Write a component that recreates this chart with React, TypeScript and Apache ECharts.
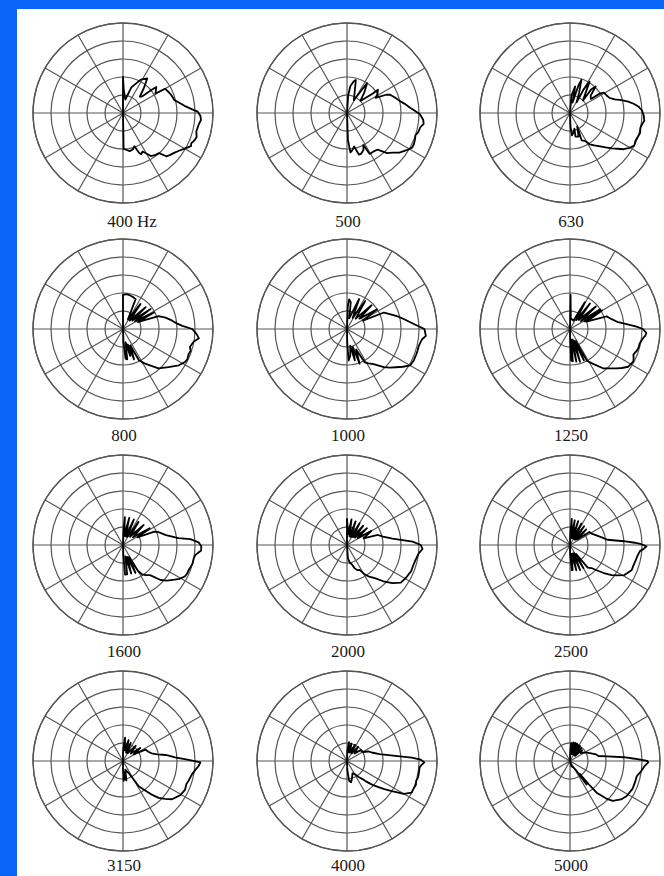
import React, { useEffect, useRef } from 'react';
import * as echarts from 'echarts';

// Frequency labels under each polar plot
const frequencyLabels = ['400 Hz', '500', '630', '800', '1000', '1250', '1600', '2000', '2500', '3150', '4000', '5000'];

// Ring values (relative level, 0 = centre, 100 = outer circle) and spoke spacing
const ringMax = 100;
const ringStep = 20;
const spokeStep = 30;

// Each pattern: [angle in degrees (0 = right, 90 = up), level 0..100]
const p400: [number, number][] = [
  [95, 0], [90, 40], [88, 25], [80, 15], [72, 30], [62, 42], [55, 47], [50, 36], [44, 26], [41, 28], [39, 40], [38, 47],
  [34, 44], [31, 42], [30, 54], [24, 56], [21, 57], [14, 59], [10, 64], [6, 70], [3, 77], [1, 83], [-2, 86], [-5, 87],
  [-9, 85], [-14, 84], [-18, 86], [-21, 85], [-24, 83], [-26, 84], [-30, 79], [-34, 75], [-38, 72], [-42, 70], [-45, 68],
  [-48, 60], [-52, 59], [-57, 57], [-60, 52], [-63, 48], [-66, 50], [-68, 48], [-71, 39], [-75, 42], [-80, 43], [-85, 41],
  [-89, 40], [-93, 0],
];
const p500: [number, number][] = [
  [95, 0], [86, 20], [83, 30], [78, 36], [75, 38], [70, 25], [62, 16], [58, 28], [56, 40], [50, 30], [42, 20], [37, 36],
  [37, 43], [32, 40], [28, 36], [25, 48], [23, 52], [18, 56], [13, 60], [9, 65], [5, 70], [1, 77], [-1, 81], [-5, 85],
  [-8, 86], [-11, 83], [-15, 82], [-18, 80], [-21, 81], [-25, 82], [-28, 82], [-32, 78], [-37, 73], [-41, 67], [-45, 63],
  [-50, 53], [-55, 52], [-61, 52], [-63, 40], [-66, 45], [-71, 48], [-74, 48], [-78, 38], [-82, 42], [-85, 44], [-88, 30],
  [-93, 0],
];
const p630: [number, number][] = [
  [95, 0], [85, 20], [79, 30], [76, 12], [73, 32], [71, 39], [66, 25], [58, 14], [60, 30], [58, 41], [52, 28], [44, 20],
  [48, 35], [46, 41], [40, 30], [34, 28], [33, 40], [31, 44], [26, 45], [21, 47], [17, 52], [14, 59], [11, 66], [8, 72],
  [5, 77], [2, 80], [-2, 82], [-6, 83], [-9, 81], [-12, 80], [-16, 81], [-19, 80], [-23, 79], [-27, 80], [-31, 76],
  [-34, 72], [-37, 66], [-40, 61], [-44, 55], [-48, 50], [-53, 45], [-58, 41], [-62, 35], [-67, 33], [-64, 22], [-62, 17],
  [-70, 28], [-77, 27], [-74, 18], [-80, 22], [-85, 25], [-88, 15], [-93, 0],
];
const p800: [number, number][] = [
  [95, 0], [90, 20], [90, 38], [84, 39], [77, 38], [72, 37], [67, 36], [63, 12], [55, 34], [52, 12], [44, 35], [42, 14],
  [36, 38], [33, 16], [28, 39], [25, 18], [20, 42], [15, 49], [10, 55], [6, 60], [3, 66], [0, 77], [-4, 82], [-7, 85],
  [-10, 80], [-13, 78], [-15, 77], [-18, 79], [-21, 78], [-25, 79], [-28, 78], [-33, 74], [-40, 66], [-48, 59], [-53, 51],
  [-58, 45], [-63, 39], [-66, 20], [-70, 36], [-73, 18], [-75, 31], [-79, 15], [-82, 34], [-85, 33], [-88, 15], [-93, 0],
];
const p1000: [number, number][] = [
  [95, 0], [88, 25], [86, 33], [82, 30], [78, 12], [68, 36], [63, 14], [57, 37], [50, 15], [44, 38], [40, 18], [33, 40],
  [28, 20], [24, 45], [18, 52], [14, 58], [10, 64], [4, 75], [0, 86], [-5, 88], [-8, 84], [-13, 82], [-17, 82], [-20, 82],
  [-25, 82], [-30, 81], [-34, 75], [-38, 69], [-42, 64], [-46, 59], [-53, 49], [-58, 45], [-62, 42], [-66, 25], [-70, 41],
  [-72, 21], [-76, 36], [-79, 19], [-83, 30], [-87, 35], [-89, 15], [-93, 0],
];
const p1250: [number, number][] = [
  [95, 0], [89, 15], [89, 38], [86, 12], [68, 10], [61, 34], [55, 12], [52, 36], [46, 14], [41, 38], [36, 15], [33, 40],
  [28, 18], [30, 41], [24, 20], [19, 43], [15, 46], [12, 49], [8, 54], [5, 63], [2, 74], [0, 81], [-3, 85], [-5, 84],
  [-7, 82], [-10, 80], [-12, 79], [-15, 79], [-18, 78], [-22, 76], [-25, 78], [-27, 79], [-30, 78], [-33, 77], [-37, 72],
  [-40, 68], [-45, 62], [-50, 57], [-56, 47], [-60, 42], [-62, 40], [-64, 15], [-66, 38], [-70, 14], [-73, 38], [-76, 12],
  [-79, 37], [-82, 12], [-85, 36], [-88, 35], [-89, 12], [-93, 0],
];
const p1600: [number, number][] = [
  [95, 0], [88, 18], [86, 31], [83, 10], [77, 31], [73, 10], [67, 31], [62, 10], [56, 31], [50, 12], [44, 32], [38, 14],
  [32, 35], [28, 18], [23, 38], [20, 42], [13, 49], [7, 62], [5, 75], [2, 84], [-1, 87], [-4, 87], [-8, 81], [-11, 80],
  [-15, 80], [-18, 79], [-21, 78], [-24, 78], [-27, 77], [-31, 73], [-34, 69], [-39, 63], [-43, 57], [-48, 45], [-53, 42],
  [-57, 39], [-60, 33], [-63, 15], [-66, 34], [-70, 14], [-74, 33], [-78, 13], [-82, 33], [-86, 33], [-88, 12], [-93, 0],
];
const p2000: [number, number][] = [
  [95, 0], [90, 15], [90, 29], [84, 12], [80, 29], [74, 10], [70, 28], [64, 10], [60, 28], [53, 11], [50, 28], [43, 12],
  [40, 29], [33, 14], [30, 31], [22, 20], [18, 36], [13, 41], [8, 51], [5, 62], [3, 73], [0, 82], [-3, 84], [-7, 80],
  [-12, 78], [-17, 77], [-22, 77], [-25, 76], [-29, 75], [-35, 73], [-40, 66], [-45, 57], [-50, 48], [-55, 43], [-59, 38],
  [-63, 31], [-68, 30], [-72, 27], [-76, 22], [-81, 20], [-86, 15], [-93, 0],
];
const p2500: [number, number][] = [
  [95, 0], [88, 15], [86, 29], [82, 10], [79, 28], [74, 8], [71, 28], [65, 8], [62, 27], [56, 8], [53, 26], [46, 8],
  [44, 25], [37, 10], [34, 26], [28, 27], [22, 30], [15, 35], [8, 42], [4, 60], [2, 72], [1, 78], [-1, 85], [-3, 82],
  [-5, 78], [-9, 76], [-13, 75], [-18, 74], [-22, 74], [-26, 71], [-29, 69], [-33, 62], [-36, 57], [-40, 48], [-44, 40],
  [-47, 35], [-52, 32], [-56, 12], [-60, 30], [-64, 10], [-68, 30], [-72, 10], [-76, 29], [-80, 10], [-84, 28], [-86, 28],
  [-89, 10], [-93, 0],
];
const p3150: [number, number][] = [
  [95, 0], [90, 10], [85, 26], [80, 12], [75, 24], [70, 10], [67, 22], [60, 10], [50, 22], [44, 12], [37, 24], [32, 14],
  [27, 28], [20, 30], [15, 33], [11, 39], [8, 48], [4, 58], [1, 73], [-1, 86], [-4, 84], [-7, 81], [-11, 78], [-17, 76],
  [-20, 75], [-25, 76], [-31, 74], [-35, 71], [-38, 69], [-42, 63], [-46, 57], [-50, 48], [-54, 39], [-58, 33], [-61, 21],
  [-66, 14], [-75, 10], [-80, 22], [-83, 20], [-86, 12], [-88, 22], [-90, 8], [-93, 0],
];
const p4000: [number, number][] = [
  [95, 0], [88, 12], [84, 21], [80, 10], [76, 20], [70, 10], [64, 20], [58, 10], [52, 20], [45, 12], [38, 20], [30, 20],
  [24, 26], [19, 29], [12, 37], [6, 54], [3, 72], [1, 82], [-1, 86], [-3, 83], [-5, 81], [-9, 81], [-13, 81], [-16, 80],
  [-19, 81], [-23, 80], [-26, 80], [-30, 73], [-34, 60], [-37, 52], [-39, 47], [-42, 41], [-44, 37], [-47, 31], [-49, 27],
  [-54, 22], [-59, 17], [-66, 15], [-74, 20], [-79, 24], [-84, 22], [-88, 10], [-93, 0],
];
const p5000: [number, number][] = [
  [95, 0], [88, 10], [86, 20], [83, 8], [80, 21], [77, 8], [74, 21], [71, 8], [68, 21], [65, 8], [62, 20], [59, 8],
  [56, 20], [52, 8], [49, 19], [45, 8], [42, 18], [36, 15], [30, 19], [26, 21], [20, 25], [14, 30], [10, 32], [7, 42],
  [4, 60], [2, 72], [0, 86], [-1, 87], [-4, 83], [-8, 80], [-13, 76], [-18, 76], [-24, 76], [-32, 74], [-37, 71],
  [-43, 65], [-46, 58], [-50, 46], [-51, 35], [-53, 18], [-55, 32], [-57, 12], [-62, 8], [-75, 6], [-93, 0],
];

const patterns = [p400, p500, p630, p800, p1000, p1250, p1600, p2000, p2500, p3150, p4000, p5000];

export default function App() {
  const ref = useRef<HTMLDivElement>(null);

  useEffect(() => {
    if (!ref.current) return;
    const chart = echarts.init(ref.current, null, { renderer: 'svg' });
    const colX = [123, 347, 570];
    const rowY = [113, 329, 545, 761];
    const labelY = [221, 435, 651, 865];
    const radius = 90;
    const gridColor = '#555555';

    const polar: any[] = [];
    const angleAxis: any[] = [];
    const radiusAxis: any[] = [];
    const series: any[] = [];
    const graphic: any[] = [
      { type: 'rect', shape: { x: 0, y: 0, width: 664, height: 9 }, style: { fill: '#0a64f8' } },
      { type: 'rect', shape: { x: 0, y: 0, width: 17, height: 876 }, style: { fill: '#0a64f8' } },
    ];

    patterns.forEach((pat, i) => {
      const cx = colX[i % 3];
      const cy = rowY[Math.floor(i / 3)];
      polar.push({ center: [cx, cy], radius });
      angleAxis.push({
        polarIndex: i,
        type: 'value',
        min: -180,
        max: 180,
        interval: spokeStep,
        startAngle: 180,
        clockwise: false,
        axisLine: { show: true, lineStyle: { color: gridColor, width: 1.3 } },
        axisTick: { show: false },
        axisLabel: { show: false },
        splitLine: { show: true, lineStyle: { color: gridColor, width: 1.2 } },
      });
      radiusAxis.push({
        polarIndex: i,
        type: 'value',
        min: 0,
        max: ringMax,
        interval: ringStep,
        axisLine: { show: false },
        axisTick: { show: false },
        axisLabel: { show: false },
        splitLine: { show: true, lineStyle: { color: gridColor, width: 1.2 } },
      });
      series.push({
        type: 'line',
        coordinateSystem: 'polar',
        polarIndex: i,
        data: pat.map(([a, r]) => [r, a]),
        symbol: 'none',
        silent: true,
        lineStyle: { color: '#000000', width: 1.8, join: 'round' },
        z: 5,
      });
      graphic.push({
        type: 'text',
        x: i === 0 ? cx + 9 : cx + 1,
        y: labelY[Math.floor(i / 3)],
        style: {
          text: frequencyLabels[i],
          fontFamily: 'Liberation Serif, Times New Roman, serif',
          fontSize: 17,
          fill: '#1a1a1a',
          align: 'center',
          verticalAlign: 'middle',
        },
      });
    });

    chart.setOption({
      animation: false,
      backgroundColor: '#ffffff',
      polar,
      angleAxis,
      radiusAxis,
      series,
      graphic,
    });

    return () => chart.dispose();
  }, []);

  return (
    <div
      ref={ref}
      style={{ position: 'absolute', left: 0, top: 0, width: 664, height: 876 }}
    />
  );
}
